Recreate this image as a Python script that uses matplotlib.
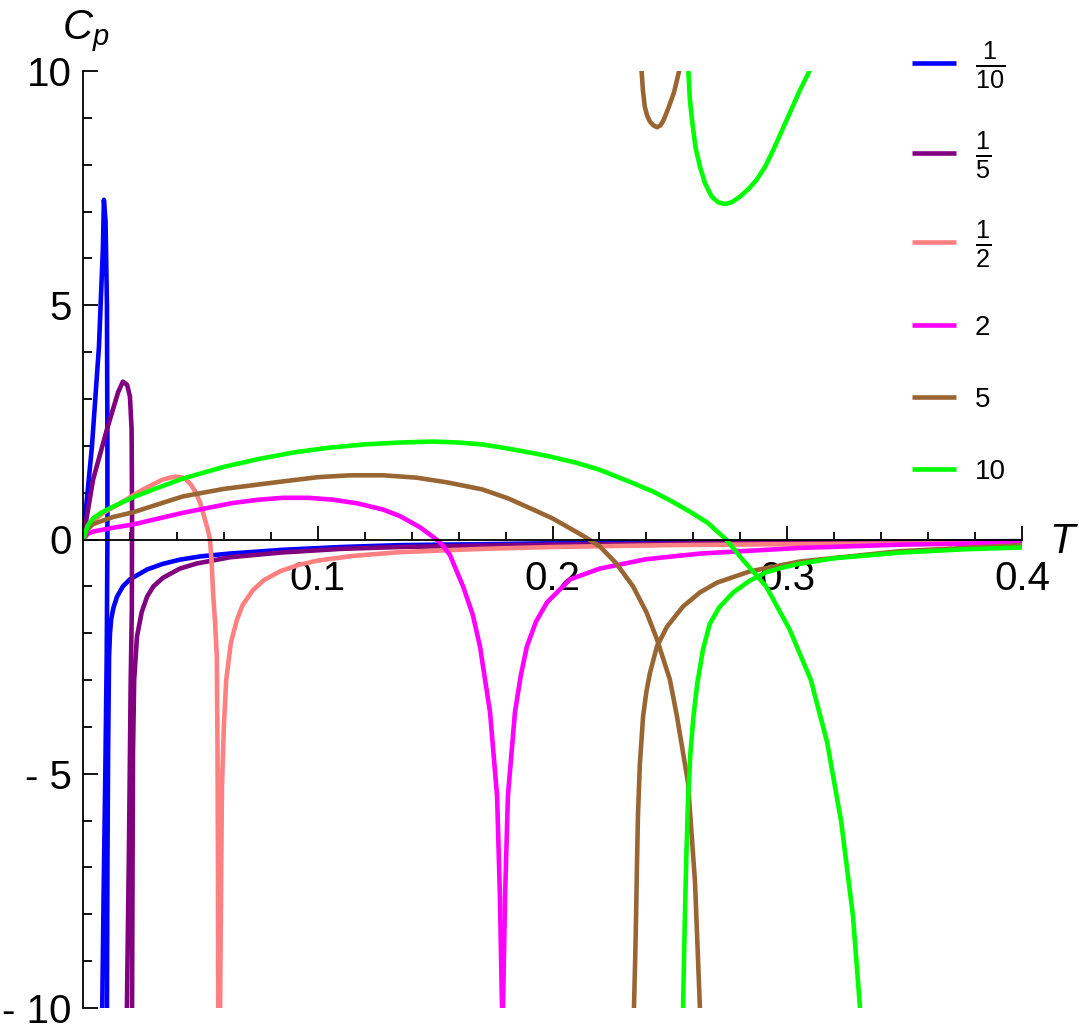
import matplotlib
matplotlib.use("Agg")
import matplotlib.pyplot as plt
from matplotlib.ticker import MultipleLocator, FixedLocator, FixedFormatter

plt.rcParams['font.family'] = ['Liberation Sans', 'DejaVu Sans']
plt.rcParams['mathtext.fontset'] = 'custom'
plt.rcParams['mathtext.rm'] = 'Liberation Sans'
plt.rcParams['mathtext.it'] = 'Liberation Sans:italic'

# ---------------- data ----------------
series_labels = [r'$\frac{1}{10}$', r'$\frac{1}{5}$', r'$\frac{1}{2}$', '2', '5', '10']
series_colors = ['#0000FF', '#800080', '#FF8080', '#FF00FF', '#996633', '#00FF00']

# 1/10
t_a1 = [0, 0.0038, 0.0068, 0.0085, 0.0089, 0.0096, 0.0102, 0.0104, 0.0104, 0.0101, 0.0095, 0.0088, 0.0082]
c_a1 = [0, 1.98, 4.12, 6.25, 7.25, 6.8, 5.0, 2.0, 0.0, -2.5, -5.0, -7.5, -10.0]
t_a2 = [0.0102, 0.0104, 0.0107, 0.0111, 0.0115, 0.012, 0.013, 0.0145, 0.017, 0.020, 0.0273, 0.034, 0.0413,
        0.05, 0.0626, 0.085, 0.11, 0.135, 0.17, 0.2, 0.3, 0.4]
c_a2 = [-10, -7, -4.5, -2.5, -2.0, -1.7, -1.45, -1.22, -1.0, -0.85, -0.64, -0.52, -0.43,
        -0.36, -0.30, -0.22, -0.16, -0.12, -0.10, -0.08, -0.05, -0.035]

# 1/5
t_b1 = [0, 0.0043, 0.0102, 0.0150, 0.0170, 0.0188, 0.0200, 0.0207, 0.0209, 0.0208, 0.0203, 0.0196, 0.0187]
c_b1 = [0, 1.28, 2.35, 3.15, 3.37, 3.3, 3.05, 2.35, 0.6, -1.5, -3.1, -6.5, -10]
t_b2 = [0.0209, 0.0211, 0.0213, 0.0218, 0.0230, 0.0250, 0.0273, 0.030, 0.034, 0.0413, 0.0486, 0.0626, 0.0839,
        0.11, 0.135, 0.17, 0.2, 0.3, 0.4]
c_b2 = [-10, -7, -4.54, -3.0, -2.07, -1.55, -1.22, -1.0, -0.82, -0.62, -0.51, -0.38, -0.28,
        -0.2, -0.16, -0.13, -0.11, -0.07, -0.05]

# 1/2
t_c1 = [0, 0.002, 0.0043, 0.009, 0.014, 0.02, 0.0256, 0.030, 0.034, 0.037, 0.0396, 0.042, 0.0439, 0.046, 0.0481,
        0.0498, 0.0511, 0.0522, 0.0532, 0.0541, 0.0548, 0.0554, 0.0563, 0.0570, 0.0573, 0.0575, 0.0576]
c_c1 = [0, 0.25, 0.40, 0.58, 0.72, 0.90, 1.07, 1.18, 1.28, 1.32, 1.34, 1.33, 1.28, 1.17, 1.0,
        0.80, 0.58, 0.38, 0.2, 0.0, -0.5, -1.13, -1.8, -2.5, -4.5, -7.0, -10.0]
t_c2 = [0.0584, 0.0588, 0.0592, 0.0600, 0.0610, 0.0630, 0.0656, 0.068, 0.0724, 0.077, 0.0839, 0.092, 0.1,
        0.115, 0.135, 0.17, 0.2, 0.25, 0.3, 0.4]
c_c2 = [-10, -7.5, -5.27, -4.0, -3.0, -2.2, -1.71, -1.40, -1.08, -0.87, -0.68, -0.54, -0.45,
        -0.35, -0.27, -0.2, -0.16, -0.12, -0.1, -0.07]

# 2
t_d1 = [0, 0.002, 0.0043, 0.0128, 0.0213, 0.0426, 0.0639, 0.075, 0.0852, 0.096, 0.1065, 0.117, 0.1278, 0.135,
        0.1436, 0.149, 0.1525, 0.1563, 0.1619, 0.166, 0.1691, 0.1734, 0.1764, 0.1776, 0.1785]
c_d1 = [0, 0.12, 0.17, 0.25, 0.32, 0.57, 0.78, 0.85, 0.89, 0.89, 0.85, 0.77, 0.64, 0.50,
        0.26, 0.06, -0.08, -0.33, -1.0, -1.6, -2.28, -3.69, -5.48, -7.61, -10]
t_d2 = [0.1789, 0.1798, 0.181, 0.184, 0.1865, 0.1891, 0.193, 0.1977, 0.2075, 0.2202, 0.24, 0.263, 0.3054,
        0.348, 0.4]
c_d2 = [-10, -7.61, -5.48, -3.69, -2.9, -2.28, -1.75, -1.34, -0.85, -0.62, -0.42, -0.3, -0.18,
        -0.11, -0.07]

# 5
t_e1 = [0, 0.002, 0.0043, 0.0128, 0.0213, 0.030, 0.0426, 0.060, 0.0852, 0.100, 0.1137, 0.128, 0.142, 0.155,
        0.170, 0.181, 0.1917, 0.200, 0.206, 0.213, 0.2202, 0.227, 0.2343, 0.240, 0.2445, 0.250, 0.253,
        0.2577, 0.2607, 0.2628]
c_e1 = [0, 0.22, 0.33, 0.48, 0.58, 0.72, 0.92, 1.08, 1.24, 1.33, 1.37, 1.37, 1.32, 1.22,
        1.07, 0.88, 0.64, 0.45, 0.28, 0.08, -0.15, -0.5, -1.0, -1.55, -2.13, -2.99, -3.77,
        -5.18, -7.31, -10]
t_e2 = [0.2347, 0.2352, 0.2356, 0.2360, 0.2364, 0.2372, 0.2386, 0.2400, 0.2415, 0.2445, 0.2488, 0.2556,
        0.2628, 0.2701, 0.2841, 0.3054, 0.348, 0.4]
c_e2 = [-10, -9, -8.04, -6.9, -5.9, -4.8, -3.77, -3.25, -2.85, -2.28, -1.86, -1.43,
        -1.13, -0.92, -0.68, -0.47, -0.25, -0.12]
t_e3 = [0.2378, 0.2385, 0.2393, 0.2403, 0.2415, 0.2430, 0.2445, 0.2460, 0.2474, 0.2496, 0.2518, 0.2544]
c_e3 = [10.1, 9.6, 9.24, 9.05, 8.92, 8.84, 8.80, 8.84, 8.96, 9.24, 9.55, 10.1]

# 10
t_f1 = [0, 0.002, 0.0043, 0.008, 0.0128, 0.0213, 0.030, 0.0426, 0.060, 0.075, 0.090, 0.105, 0.120, 0.135,
        0.149, 0.160, 0.170, 0.180, 0.190, 0.199, 0.210, 0.220, 0.234, 0.243, 0.251, 0.259, 0.266,
        0.274, 0.281, 0.291, 0.301, 0.310, 0.317, 0.323, 0.328, 0.331]
c_f1 = [0, 0.3, 0.45, 0.58, 0.70, 0.90, 1.07, 1.30, 1.55, 1.72, 1.86, 1.96, 2.03, 2.07,
        2.09, 2.07, 2.03, 1.95, 1.86, 1.77, 1.64, 1.49, 1.21, 1.02, 0.81, 0.58, 0.36,
        0.0, -0.43, -1.0, -1.92, -2.99, -4.33, -6.03, -8.04, -10.0]
t_f2 = [0.2556, 0.2560, 0.2564, 0.2570, 0.2577, 0.2587, 0.2600, 0.2616, 0.2641, 0.267, 0.271, 0.277, 0.284,
        0.291, 0.298, 0.305, 0.32, 0.348, 0.375, 0.4]
c_f2 = [-10, -9, -8.04, -6.8, -5.6, -4.6, -3.8, -3.1, -2.35, -1.8, -1.45, -1.13, -0.88,
        -0.70, -0.6, -0.52, -0.4, -0.28, -0.21, -0.17]
t_f3 = [0.2578, 0.2585, 0.2596, 0.2610, 0.2628, 0.2650, 0.2678, 0.2705, 0.2735, 0.2765, 0.2799, 0.2835,
        0.2870, 0.2905, 0.2941, 0.2991, 0.3054, 0.3104]
c_f3 = [10.09, 9.4, 8.88, 8.35, 7.96, 7.6, 7.32, 7.2, 7.16, 7.2, 7.32, 7.48,
        7.68, 7.95, 8.32, 8.88, 9.59, 10.09]

series_branches = [
    [(t_a1, c_a1), (t_a2, c_a2)],
    [(t_b1, c_b1), (t_b2, c_b2)],
    [(t_c1, c_c1), (t_c2, c_c2)],
    [(t_d1, c_d1), (t_d2, c_d2)],
    [(t_e1, c_e1), (t_e2, c_e2), (t_e3, c_e3)],
    [(t_f1, c_f1), (t_f2, c_f2), (t_f3, c_f3)],
]

x_major = [0.1, 0.2, 0.3, 0.4]
x_major_labels = ['0.1', '0.2', '0.3', '0.4']
y_major = [-10, -5, 0, 5, 10]
y_major_labels = ['- 10', '- 5', '0', '5', '10']

# ---------------- figure ----------------
W, H = 1079, 1025
fig = plt.figure(figsize=(W / 100, H / 100), dpi=100)
ax = fig.add_axes([83 / W, (H - 1008) / H, (1022 - 83) / W, (1008 - 71) / H])
ax.set_xlim(0, 0.4)
ax.set_ylim(-10, 10)

LW = 3.3
handles = []
for branches, col, lab in zip(series_branches, series_colors, series_labels):
    for i, (t, c) in enumerate(branches):
        ln, = ax.plot(t, c, color=col, lw=LW, solid_joinstyle='round', solid_capstyle='butt')
        if i == 0:
            ln.set_label(lab)
            handles.append(ln)

for s in ['top', 'right']:
    ax.spines[s].set_visible(False)
ax.spines['bottom'].set_position(('data', 0))
ax.spines['bottom'].set_linewidth(1.3)
ax.spines['left'].set_linewidth(1.3)

ax.xaxis.set_major_locator(FixedLocator(x_major))
ax.xaxis.set_major_formatter(FixedFormatter(x_major_labels))
ax.xaxis.set_minor_locator(MultipleLocator(0.02))
ax.yaxis.set_major_locator(FixedLocator(y_major))
ax.yaxis.set_major_formatter(FixedFormatter(y_major_labels))
ax.yaxis.set_minor_locator(MultipleLocator(1))

ax.tick_params(axis='x', which='major', direction='in', length=10, width=1.3, labelsize=29, pad=15)
ax.tick_params(axis='x', which='minor', direction='in', length=6, width=1.3)
ax.tick_params(axis='y', which='major', direction='in', length=11, width=1.3, labelsize=29, pad=8)
ax.tick_params(axis='y', which='minor', direction='in', length=6.5, width=1.3)

fig.text(62 / W, 1 - 8 / H, r'$C_p$', fontsize=30, va='top', ha='left')
fig.text(1049 / W, 1 - 522 / H, r'$T$', fontsize=30, va='top', ha='left')

# legend: one entry per row, placed at the reference row positions
legend_rows_px = [65, 155, 244, 328, 400, 472]
legend_sizes = [26, 26, 26, 20, 20, 20]
for h, ypx, fs in zip(handles, legend_rows_px, legend_sizes):
    em = fs * 100 / 72.0
    lg = fig.legend(handles=[h], loc='center left', bbox_to_anchor=(912 / W, 1 - ypx / H),
                    bbox_transform=fig.transFigure, frameon=False, fontsize=fs,
                    handlelength=44 / em, handletextpad=19 / em,
                    borderpad=0, borderaxespad=0)
    for l in lg.get_lines():
        l.set_linewidth(LW)

fig.savefig('out.png', dpi=100)
